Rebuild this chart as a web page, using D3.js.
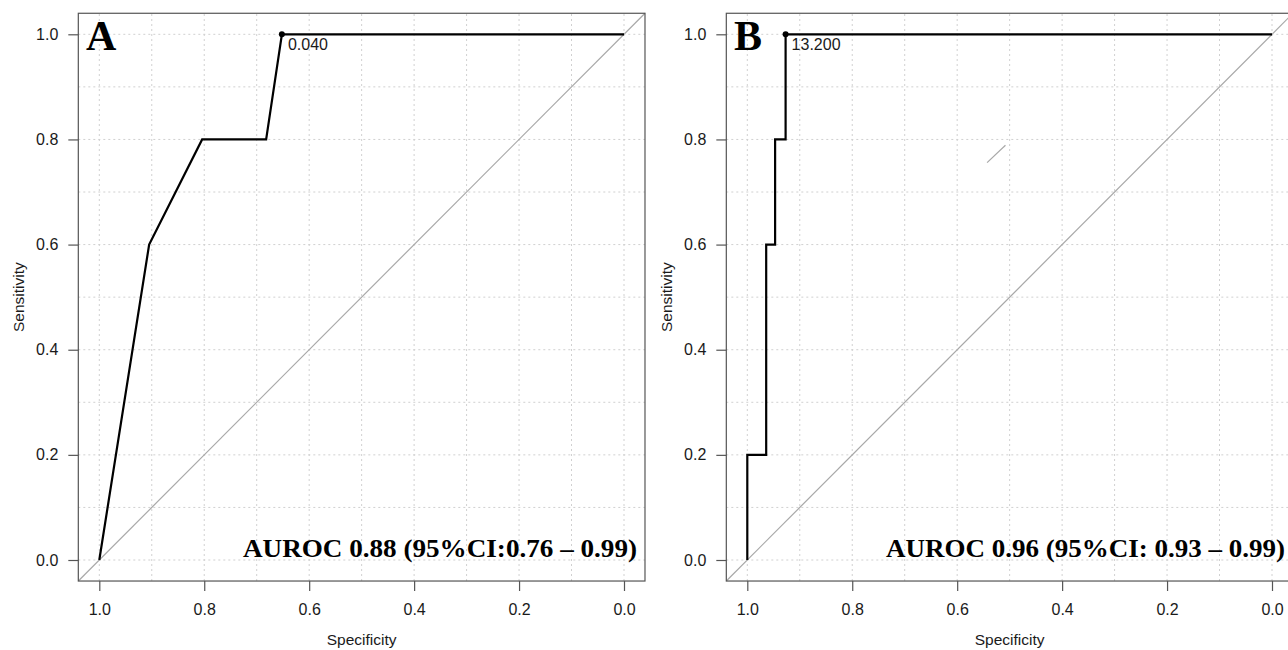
<!DOCTYPE html>
<html>
<head>
<meta charset="utf-8">
<script src="https://cdn.jsdelivr.net/npm/d3@7"></script>
<style>
  body { margin: 0; background: #fff; }
  text { font-family: "Liberation Sans", Arial, Helvetica, sans-serif; }
</style>
</head>
<body>
<div id="chart"></div>
<script>
// ROC curves, specificity / sensitivity pairs
var specA = [1.0, 0.905, 0.804, 0.682, 0.652, 0.0];
var sensA = [0.0, 0.6, 0.8, 0.8, 1.0, 1.0];

var specB = [1.0, 1.0, 0.964, 0.964, 0.947, 0.947, 0.927, 0.927, 0.0];
var sensB = [0.0, 0.2, 0.2, 0.6, 0.6, 0.8, 0.8, 1.0, 1.0];

// best threshold points and their labels
var bestA = { spec: 0.652, sens: 1.0, label: "0.040" };
var bestB = { spec: 0.927, sens: 1.0, label: "13.200" };

var panelLetters = ["A", "B"];
var aurocLabels = ["AUROC 0.88 (95%CI:0.76 \u2013 0.99)", "AUROC 0.96 (95%CI: 0.93 \u2013 0.99)"];

var tickValues = [0, 0.2, 0.4, 0.6, 0.8, 1.0];
var gridValues = d3.range(0, 1.01, 0.1);

// small grey stroke that shows up in panel B
var strayB = [[0.543, 0.756], [0.508, 0.789]];

var svgWidth = 1288;
var svgHeight = 650;

var svg = d3.select("#chart")
  .append("svg")
  .attr("width", svgWidth)
  .attr("height", svgHeight);

var panels = [
  { dx: 0, spec: specA, sens: sensA, best: bestA, letter: panelLetters[0], auroc: aurocLabels[0], aurocWidth: 394 },
  { dx: 648, spec: specB, sens: sensB, best: bestB, letter: panelLetters[1], auroc: aurocLabels[1], aurocWidth: 399 }
];

panels.forEach(function(p, i) {

  var g = svg.append("g")
    .attr("transform", `translate(${p.dx}, 0)`);

  var x = d3.scaleLinear().domain([1, 0]).range([99.3, 624]);
  var y = d3.scaleLinear().domain([0, 1]).range([560, 34.3]);

  var x0 = x(1.04), x1 = x(-0.04);
  var y0 = y(-0.04), y1 = y(1.04);

  // dotted grid
  g.selectAll(".vgrid")
    .data(gridValues)
    .enter()
    .append("line")
    .attr("x1", d => x(d)).attr("x2", d => x(d))
    .attr("y1", y0).attr("y2", y1)
    .attr("stroke", "#d0d0d0")
    .attr("stroke-dasharray", "2,3");

  g.selectAll(".hgrid")
    .data(gridValues)
    .enter()
    .append("line")
    .attr("y1", d => y(d)).attr("y2", d => y(d))
    .attr("x1", x0).attr("x2", x1)
    .attr("stroke", "#d0d0d0")
    .attr("stroke-dasharray", "2,3");

  // diagonal reference line
  g.append("line")
    .attr("x1", x(1.04)).attr("y1", y(-0.04))
    .attr("x2", x(-0.04)).attr("y2", y(1.04))
    .attr("stroke", "#a8a8a8")
    .attr("stroke-width", 1.2);

  if (i == 1) {
    g.append("line")
      .attr("x1", x(strayB[0][0])).attr("y1", y(strayB[0][1]))
      .attr("x2", x(strayB[1][0])).attr("y2", y(strayB[1][1]))
      .attr("stroke", "#a8a8a8")
      .attr("stroke-width", 1.2);
  }

  // box
  g.append("rect")
    .attr("x", x0).attr("y", y1)
    .attr("width", x1 - x0).attr("height", y0 - y1)
    .attr("fill", "none")
    .attr("stroke", "#555")
    .attr("stroke-width", 1.2);

  // axes
  var bottomAxis = d3.axisBottom(x).tickValues(tickValues).tickSize(10).tickPadding(13)
    .tickFormat(d3.format(".1f"));
  var leftAxis = d3.axisLeft(y).tickValues(tickValues).tickSize(10).tickPadding(10)
    .tickFormat(d3.format(".1f"));

  var xg = g.append("g")
    .attr("transform", `translate(0, ${y0})`)
    .call(bottomAxis);
  var yg = g.append("g")
    .attr("transform", `translate(${x0}, 0)`)
    .call(leftAxis);

  [xg, yg].forEach(function(a) {
    a.select(".domain").remove();
    a.selectAll("line").attr("stroke", "#555").attr("stroke-width", 1.2);
    a.selectAll("text")
      .attr("fill", "#1a1a1a")
      .style("font-size", "16px")
      .style("font-family", "'Liberation Sans', Arial, sans-serif");
  });

  // ROC curve
  var line = d3.line()
    .x(d => x(d[0]))
    .y(d => y(d[1]));

  g.append("path")
    .datum(d3.zip(p.spec, p.sens))
    .attr("d", line)
    .attr("fill", "none")
    .attr("stroke", "#000")
    .attr("stroke-width", 2.2)
    .attr("stroke-linejoin", "miter");

  // best threshold
  g.append("circle")
    .attr("cx", x(p.best.spec))
    .attr("cy", y(p.best.sens))
    .attr("r", 3)
    .attr("fill", "#000");

  g.append("text")
    .attr("x", x(p.best.spec) + 6)
    .attr("y", y(p.best.sens) + 16)
    .style("font-size", "16px")
    .attr("fill", "#1a1a1a")
    .text(p.best.label);

  // panel letter
  g.append("text")
    .attr("x", 86)
    .attr("y", 50)
    .style("font-family", "'Liberation Serif', 'DejaVu Serif', serif")
    .style("font-weight", "bold")
    .style("font-size", "42px")
    .text(p.letter);

  // AUROC
  g.append("text")
    .attr("x", x1 - 8)
    .attr("y", 557)
    .attr("text-anchor", "end")
    .attr("textLength", p.aurocWidth)
    .attr("lengthAdjust", "spacingAndGlyphs")
    .style("font-family", "'Liberation Serif', 'DejaVu Serif', serif")
    .style("font-weight", "bold")
    .style("font-size", "25px")
    .text(p.auroc);

  // axis titles
  g.append("text")
    .attr("x", (x0 + x1) / 2)
    .attr("y", 645)
    .attr("text-anchor", "middle")
    .style("font-size", "15.5px")
    .attr("fill", "#1a1a1a")
    .text("Specificity");

  g.append("text")
    .attr("transform", `translate(${x0 - 54}, ${(y0 + y1) / 2}) rotate(-90)`)
    .attr("text-anchor", "middle")
    .style("font-size", "15.5px")
    .attr("fill", "#1a1a1a")
    .text("Sensitivity");
});
</script>
</body>
</html>
